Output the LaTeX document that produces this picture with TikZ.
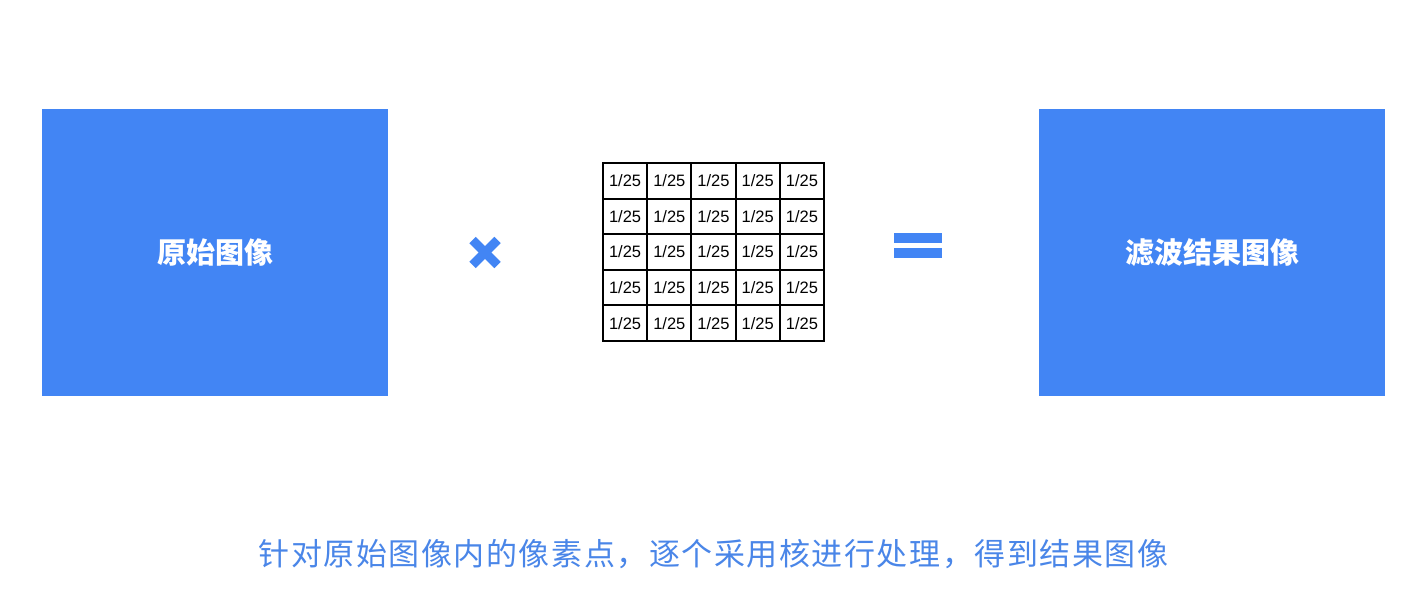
\documentclass[tikz,border=0pt]{standalone}
\usepackage{fontspec}
\setmainfont{Liberation Sans}
\newfontfamily\cjk{Noto Sans CJK SC}
\newfontfamily\cjkwide{Noto Sans CJK SC}[LetterSpace=5]
\usetikzlibrary{calc}
\definecolor{myblue}{HTML}{4285F4}
\definecolor{mytextblue}{HTML}{4A86E8}
\tikzset{
  imgbox/.style={fill=myblue, minimum width=346pt, minimum height=287pt, inner sep=0pt,
    text=white, font=\cjk\bfseries\fontsize{29}{31}\selectfont},
  cellbox/.style={draw=black, line width=2pt, minimum width=44.2pt, minimum height=35.6pt,
    inner sep=0pt, font=\fontsize{16.5}{18}\selectfont}
}

\begin{document}
\begin{tikzpicture}[x=1pt,y=1pt]
    \useasboundingbox (0,0) rectangle (1407,600);

    \pgfmathsetmacro\cw{44.2} % cell width
    \pgfmathsetmacro\ch{35.6} % cell height

    \node[imgbox] (src) at (215,347.5) {原始图像};
    \node[imgbox] (res) at (1212,347.5) {滤波结果图像};

    % the 5x5 mean kernel
    \foreach \i in {0,...,4}{
      \foreach \j in {0,...,4}{
        \node[cellbox] (k-\i-\j) at ({603+\cw*(\i+0.5)},{437-\ch*(\j+0.5)}) {\raisebox{-2pt}{1/25}};
      }
    }

    % times sign
    \coordinate (T) at (485,347.5);
    \draw[myblue, line width=9pt] ($(T)+(-12.5,12.5)$) -- ($(T)+(12.5,-12.5)$);
    \draw[myblue, line width=9pt] ($(T)+(-12.5,-12.5)$) -- ($(T)+(12.5,12.5)$);

    % equals sign
    \coordinate (E) at (918,351);
    \fill[myblue] ($(E)+(-24,-9)$) rectangle ($(E)+(24,1)$);
    \fill[myblue] ($(E)+(-24,6)$) rectangle ($(E)+(24,16)$);

    \node[text=mytextblue, font=\cjkwide\fontsize{31}{33}\selectfont] (cap) at (713.5,46)
      {针对原始图像内的像素点，逐个采用核进行处理，得到结果图像};
\end{tikzpicture}
\end{document}
